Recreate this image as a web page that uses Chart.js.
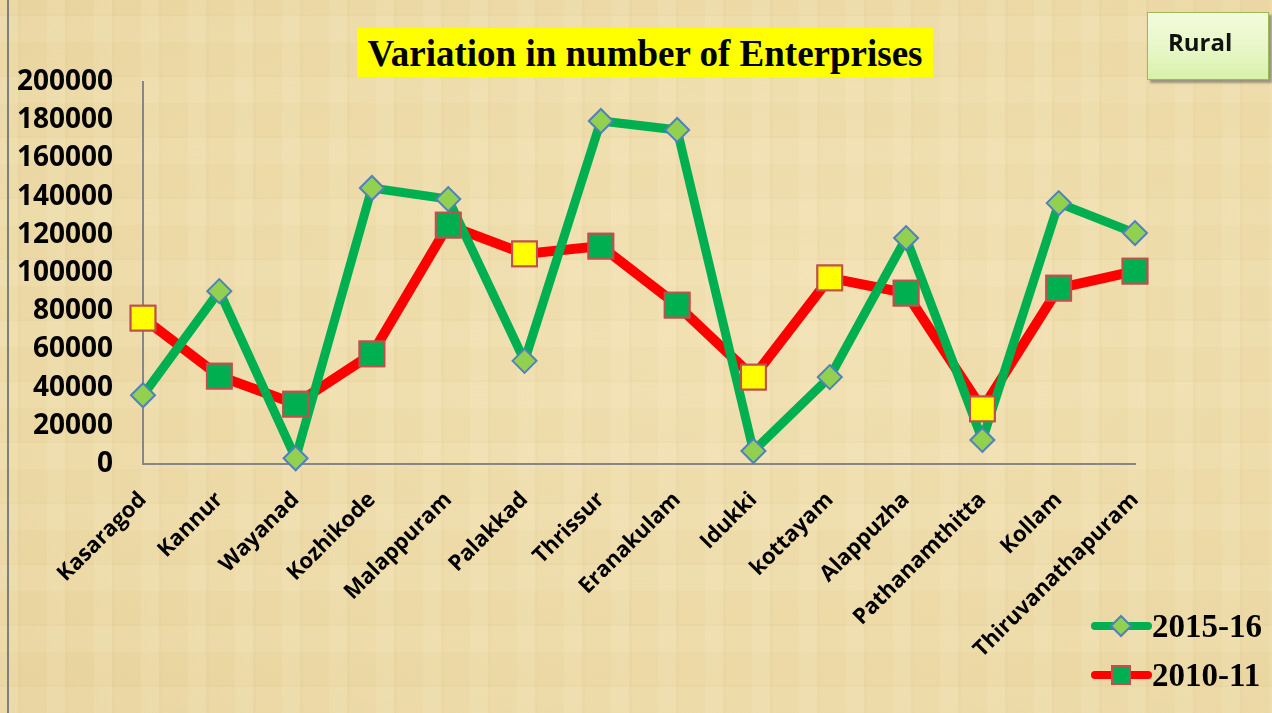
<!DOCTYPE html>
<html>
<head>
<meta charset="utf-8">
<script src="https://cdn.jsdelivr.net/npm/chart.js@4.4.0/dist/chart.umd.min.js"></script>
<style>
  html, body { margin: 0; padding: 0; }
  body {
    width: 1272px; height: 713px; overflow: hidden; position: relative;
    background-color: #ecd9a6;
    background-image:
      repeating-linear-gradient(90deg, rgba(255,245,215,0.12) 0 18px, rgba(200,170,110,0.05) 18px 21px, rgba(255,245,215,0) 21px 47px),
      repeating-linear-gradient(0deg, rgba(255,245,215,0.10) 0 26px, rgba(200,170,110,0.05) 26px 28px, rgba(255,245,215,0) 28px 61px),
      radial-gradient(ellipse at 60% 45%, #f0dfb0 0%, #ebd8a4 70%, #e7d29c 100%);
  }
  #leftBorder { position: absolute; left: 7px; top: 0; width: 2px; height: 713px; background: #7f7f7f; }
  #wrap { position: absolute; left: 0; top: 0; width: 1272px; height: 713px; }
  #title {
    position: absolute; left: 357px; top: 28px; width: 576px; height: 49px;
    background: #ffff00; font-family: "Liberation Serif", serif; font-weight: bold;
    font-size: 37px; line-height: 51px; text-align: center; color: #000; white-space: nowrap;
  }
  #rural {
    position: absolute; left: 1147px; top: 12px; width: 122px; height: 68px;
    background: linear-gradient(180deg, #f4fbdc 0%, #e6f6c4 60%, #d8f0aa 100%);
    border: 1px solid #9bbb59; box-shadow: 3px 3px 2px rgba(90,90,90,0.55);
    font-family: "Open Sans", sans-serif; font-weight: bold; font-size: 24px;
    line-height: 58px; padding-left: 20px; color: #111; box-sizing: border-box;
  }
</style>
</head>
<body>
<div id="leftBorder"></div>
<div id="wrap"><canvas id="chart" width="1272" height="713"></canvas></div>
<div id="title">Variation in number of Enterprises</div>
<div id="rural">Rural</div>
<script>
const districts = ['Kasaragod', 'Kannur', 'Wayanad', 'Kozhikode', 'Malappuram', 'Palakkad', 'Thrissur',
    'Eranakulam', 'Idukki', 'kottayam', 'Alappuzha', 'Pathanamthitta', 'Kollam', 'Thiruvanathapuram'];
const enterprises2015 = [36000, 90500, 3000, 144500, 138700, 54000, 179600, 174900, 6800, 45500, 118300, 12600, 136600, 120900];
const enterprises2010 = [76400, 46000, 31400, 57600, 125100, 110000, 114100, 83200, 45500, 97400, 89500, 28800, 92100, 101000];
const yTicks = [0, 20000, 40000, 60000, 80000, 100000, 120000, 140000, 160000, 180000, 200000];

// marker fills of the 2010-11 squares, as in the original (some yellow)
const Y = '#ffff00', G = '#00b050';
const squareFill = [Y, G, G, G, G, Y, G, G, Y, Y, G, Y, G, G];

// red markers go back on top of the green line, like Excel does
const markersOnTop = {
    id: 'markersOnTop',
    afterDatasetsDraw(chart) {
        const meta = chart.getDatasetMeta(1);
        meta.data.forEach(pt => pt.draw(chart.ctx));
    }
};

// legend drawn bottom right, like the original
const sideLegend = {
    id: 'sideLegend',
    afterDraw(chart) {
        const ctx = chart.ctx;
        const rows = [{ ds: chart.data.datasets[0], y: 626 }, { ds: chart.data.datasets[1], y: 675 }];
        rows.forEach(r => {
            ctx.save();
            ctx.strokeStyle = r.ds.borderColor;
            ctx.lineWidth = 8;
            ctx.lineCap = 'round';
            ctx.beginPath();
            ctx.moveTo(1095, r.y);
            ctx.lineTo(1148, r.y);
            ctx.stroke();
            ctx.fillStyle = Array.isArray(r.ds.pointBackgroundColor) ? G : r.ds.pointBackgroundColor;
            ctx.strokeStyle = r.ds.pointBorderColor;
            ctx.lineWidth = 2;
            ctx.beginPath();
            if (r.ds.pointStyle === 'rectRot') {
                ctx.moveTo(1121, r.y - 10); ctx.lineTo(1131, r.y);
                ctx.lineTo(1121, r.y + 10); ctx.lineTo(1111, r.y);
                ctx.closePath();
            } else {
                ctx.rect(1112, r.y - 9, 18, 18);
            }
            ctx.fill(); ctx.stroke();
            ctx.fillStyle = '#000';
            ctx.font = 'bold 33px "Liberation Serif"';
            ctx.textBaseline = 'middle';
            ctx.fillText(r.ds.label, 1152, r.y + 2);
            ctx.restore();
        });
    }
};

new Chart(document.getElementById('chart'), {
    type: 'line',
    data: {
        labels: districts,
        datasets: [{
            label: '2015-16',
            data: enterprises2015,
            borderColor: '#00b050',
            borderWidth: 9,
            pointStyle: 'rectRot',
            pointRadius: 12,
            pointBackgroundColor: '#92d050',
            pointBorderColor: '#4f81bd',
            pointBorderWidth: 2,
            tension: 0,
            clip: false,
            order: 1
        }, {
            label: '2010-11',
            data: enterprises2010,
            borderColor: '#ff0000',
            borderWidth: 10,
            pointStyle: 'rect',
            pointRadius: 17.5,
            pointBackgroundColor: squareFill,
            pointBorderColor: '#c0504d',
            pointBorderWidth: 2,
            tension: 0,
            clip: false,
            order: 2
        }]
    },
    options: {
        responsive: false,
        animation: false,
        layout: { padding: { top: 82, right: 137, left: 0, bottom: 0 } },
        plugins: { legend: { display: false }, tooltip: { enabled: false } },
        scales: {
            x: {
                offset: false,
                grid: { display: false },
                border: { display: true, color: '#868686', width: 2 },
                ticks: {
                    color: '#000', maxRotation: 45, minRotation: 45, padding: 15,
                    font: { family: 'Open Sans', weight: 'bold', size: 22 }
                },
                afterFit(scale) { scale.height = 713 - 464; }
            },
            y: {
                min: 0, max: 200000,
                grid: { display: false },
                border: { display: true, color: '#868686', width: 2 },
                afterBuildTicks(scale) { scale.ticks = yTicks.map(v => ({ value: v })); },
                ticks: {
                    color: '#000', padding: 22,
                    callback: v => String(v),
                    font: { family: 'Open Sans', weight: 'bold', size: 28 }
                },
                afterFit(scale) { scale.width = 143; }
            }
        }
    },
    plugins: [markersOnTop, sideLegend]
});
</script>
</body>
</html>
